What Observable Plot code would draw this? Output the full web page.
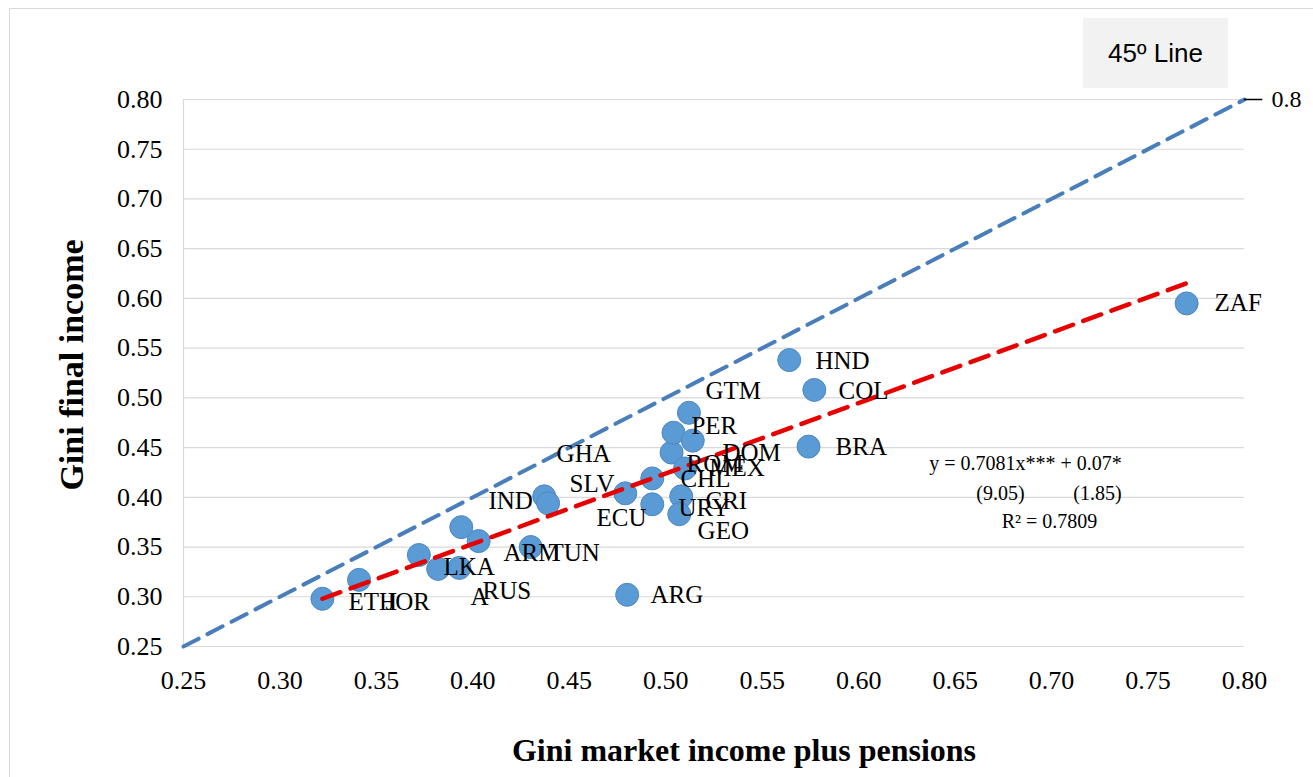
<!DOCTYPE html>
<html>
<head>
<meta charset="utf-8">
<script src="https://cdn.jsdelivr.net/npm/d3@7"></script>
<script src="https://cdn.jsdelivr.net/npm/@observablehq/plot@0.6"></script>
<style>
  body { margin: 0; background: #fff; }
  #wrap { position: relative; width: 1313px; height: 777px; overflow: hidden; background: #fff; }
  #frame { position: absolute; left: 9px; top: 8px; width: 1330px; height: 820px; border: 1px solid #d9d9d9; box-sizing: border-box; }
  #chart { position: absolute; left: 0; top: 0; }
  #chart svg text, #chart svg g { font-family: 'Liberation Serif', 'Times New Roman', serif !important; font-variant: normal !important; font-variant-numeric: normal !important; }
  #legend { position: absolute; left: 1083px; top: 18px; width: 145px; height: 70px; background: #f2f2f2;
            font: 26px "Liberation Sans", Arial, sans-serif; color: #000;
            display: flex; align-items: center; justify-content: center; }
</style>
</head>
<body>
<div id="wrap">
  <div id="frame"></div>
  <div id="chart"></div>
  <div id="legend">45º Line</div>
</div>
<script>
// ---- data ----
const xTicks = [0.25, 0.30, 0.35, 0.40, 0.45, 0.50, 0.55, 0.60, 0.65, 0.70, 0.75, 0.80];
const yTicks = [0.25, 0.30, 0.35, 0.40, 0.45, 0.50, 0.55, 0.60, 0.65, 0.70, 0.75, 0.80];

// Gini market income plus pensions (x) and Gini final income (y)
const giniMarket = [0.322, 0.341, 0.372, 0.382, 0.393, 0.394, 0.403, 0.430, 0.437, 0.439,
                    0.479, 0.493, 0.493, 0.503, 0.504, 0.514, 0.512, 0.508, 0.507, 0.510,
                    0.480, 0.574, 0.564, 0.577, 0.770];
const giniFinal  = [0.298, 0.317, 0.342, 0.328, 0.329, 0.370, 0.356, 0.350, 0.401, 0.394,
                    0.404, 0.393, 0.419, 0.445, 0.465, 0.457, 0.485, 0.401, 0.383, 0.429,
                    0.302, 0.451, 0.538, 0.508, 0.595];

// country labels and where they sit (data units)
const labelText = ["ZAF", "HND", "COL", "BRA", "GTM", "PER", "DOM", "ROM", "MEX", "CHL", "URY", "CRI",
                   "GEO", "ECU", "SLV", "GHA", "IND", "ARM", "TUN", "LKA", "A", "RUS", "ETH", "JOR", "ARG"];
const labelX = [0.7845, 0.5776, 0.5896, 0.5880, 0.5206, 0.5133, 0.5294, 0.5108, 0.5226, 0.5076, 0.5066, 0.5206,
                0.5165, 0.4641, 0.4501, 0.4434, 0.4081, 0.4159, 0.4392, 0.3848, 0.3988, 0.4050, 0.3355, 0.3547, 0.4921];
const labelY = [0.5949, 0.5366, 0.5064, 0.4501, 0.5064, 0.4722, 0.4450, 0.4330, 0.4290, 0.4189, 0.3897, 0.3968,
                0.3666, 0.3797, 0.4129, 0.4440, 0.3968, 0.3445, 0.3445, 0.3304, 0.2993, 0.3063, 0.2952, 0.2952, 0.3013];

// fitted regression
const slope = 0.7081;
const intercept = 0.07;
const eqText = ["y = 0.7081x*** + 0.07*", "(9.05)", "(1.85)", "R² = 0.7809"];
const eqX = [0.6865, 0.6735, 0.7238, 0.6989];
const eqY = [0.4340, 0.4038, 0.4038, 0.3757];

// ---- build ----
const points = giniMarket.map((x, i) => ({x, y: giniFinal[i]}));
const labels = labelText.map((t, i) => ({t, x: labelX[i], y: labelY[i]}));
const eq = eqText.map((t, i) => ({t, x: eqX[i], y: eqY[i]}));
const xMin = d3.min(giniMarket), xMax = d3.max(giniMarket);
const fit = [xMin, xMax].map(x => ({x, y: slope * x + intercept}));
const lo = xTicks[0], hi = xTicks[xTicks.length - 1];
const diag = [{x: lo, y: lo}, {x: hi, y: hi}];
const fmt = d => d.toFixed(2);

const serif = "Liberation Serif";

const chart = Plot.plot({
  width: 1313,
  height: 777,
  marginLeft: 183,
  marginRight: 69,
  marginTop: 99,
  marginBottom: 131,
  style: {fontFamily: serif, fontSize: "26px", color: "#000", background: "transparent", overflow: "visible"},
  x: {domain: [lo, hi]},
  y: {domain: [yTicks[0], yTicks[yTicks.length - 1]]},
  marks: [
    Plot.gridY(yTicks, {stroke: "#d9d9d9", strokeOpacity: 1, strokeWidth: 1.2}),
    Plot.ruleX([lo], {stroke: "#d9d9d9", strokeWidth: 1.2}),
    Plot.axisX(xTicks, {tickSize: 0, tickPadding: 24, tickFormat: fmt, label: null, fontSize: 26, fontFamily: serif, fontVariant: "normal", fill: "#000"}),
    Plot.axisY(yTicks, {tickSize: 0, tickPadding: 21, tickFormat: fmt, label: null, fontSize: 26, fontFamily: serif, fontVariant: "normal", fill: "#000"}),
    Plot.line(diag, {x: "x", y: "y", stroke: "#4a7ebb", strokeWidth: 4, strokeDasharray: "17,10"}),
    Plot.ruleY([hi], {x1: hi, x2: hi + 0.0095, stroke: "#000", strokeWidth: 1.5}),
    Plot.text([hi], {x: d => d, y: d => d, text: d => String(d).replace(/0+$/, "").replace(/\.$/, ""), dx: 27, textAnchor: "start", fontSize: 24, fill: "#000"}),
    Plot.dot(points, {x: "x", y: "y", r: 11.5, fill: "#5b9bd5", stroke: "#4f87bf", strokeWidth: 1}),
    Plot.line(fit, {x: "x", y: "y", stroke: "#e60000", strokeWidth: 4.5, strokeDasharray: "19,11"}),
    Plot.text(labels, {x: "x", y: "y", text: "t", textAnchor: "start", fontSize: 25, fill: "#000"}),
    Plot.text(eq, {x: "x", y: "y", text: "t", textAnchor: "middle", fontSize: 20, fill: "#000"}),
    Plot.text(["Gini market income plus pensions"], {frameAnchor: "bottom", dy: 104, dx: 30, lineAnchor: "middle",
      textAnchor: "middle", fontWeight: "bold", fontSize: 32, fill: "#000"}),
    Plot.text(["Gini final income"], {frameAnchor: "left", dx: -111, dy: -8, rotate: -90, lineAnchor: "middle",
      textAnchor: "middle", fontWeight: "bold", fontSize: 34, fill: "#000"})
  ]
});
document.getElementById("chart").appendChild(chart);
</script>
</body>
</html>
